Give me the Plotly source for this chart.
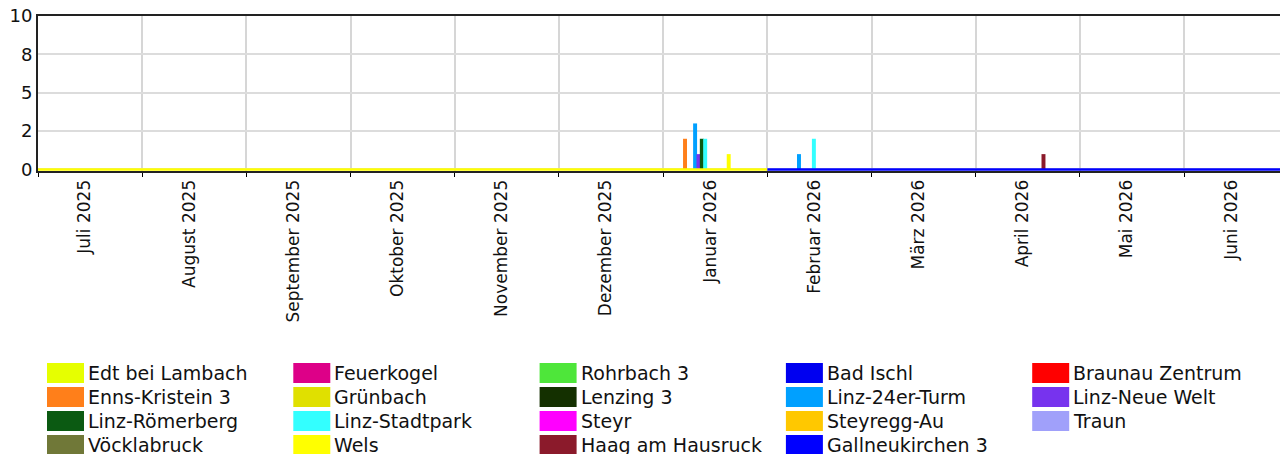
import calendar
import plotly.graph_objects as go

# Month categories along the x axis (each month gets the same width)
month_labels = ["Juli 2025", "August 2025", "September 2025", "Oktober 2025",
                "November 2025", "Dezember 2025", "Januar 2026", "Februar 2026",
                "März 2026", "April 2026", "Mai 2026", "Juni 2026"]
first_month = (2025, 7)

# Y axis ticks
y_tickvals = [0, 2.5, 5, 7.5, 10]
y_ticktext = ["0", "2", "5", "8", "10"]

# Stations in legend order with their colours
stations = ["Edt bei Lambach", "Feuerkogel", "Rohrbach 3", "Bad Ischl", "Braunau Zentrum",
            "Enns-Kristein 3", "Grünbach", "Lenzing 3", "Linz-24er-Turm", "Linz-Neue Welt",
            "Linz-Römerberg", "Linz-Stadtpark", "Steyr", "Steyregg-Au", "Traun",
            "Vöcklabruck", "Wels", "Haag am Hausruck", "Gallneukirchen 3"]
station_colors = ["#E6FF00", "#DD0088", "#4EE63A", "#0000F0", "#FF0000",
                  "#FF7F1A", "#E0E000", "#143000", "#00A0FF", "#7733EE",
                  "#0B5A12", "#33FFFF", "#FF00FF", "#FFC800", "#A0A0FA",
                  "#707838", "#FFFF00", "#8B1A2B", "#0000FF"]
color_of = dict(zip(stations, station_colors))

# Daily exceedance counts per station (days with a non-zero value)
enns_dates = ["2026-01-07"]
enns_values = [2]
linz24_dates = ["2026-01-10", "2026-02-09"]
linz24_values = [3, 1]
linz_neue_welt_dates = ["2026-01-11"]
linz_neue_welt_values = [1]
linz_roemerberg_dates = ["2026-01-12"]
linz_roemerberg_values = [2]
linz_stadtpark_dates = ["2026-01-13", "2026-02-13"]
linz_stadtpark_values = [2, 2]
wels_dates = ["2026-01-20"]
wels_values = [1]
haag_dates = ["2026-04-20"]
haag_values = [1]

# Periods reported with value 0 (drawn as a line on the baseline)
wels_zero_period = ["2025-07-01", "2026-01-31"]
gallneukirchen_zero_period = ["2026-02-01", "2026-06-30"]


def month_pos(date_str, where="mid"):
    """Position on the uniform month axis: month index + fraction of the month."""
    y, m, d = (int(p) for p in date_str.split("-"))
    idx = (y - first_month[0]) * 12 + (m - first_month[1])
    n = calendar.monthrange(y, m)[1]
    offset = {"start": d - 1, "mid": d - 0.5, "end": d}[where]
    return idx + offset / n


W, H = 1280, 454
plot_left, plot_top, plot_bottom = 38, 16, 171
x_max = 11.92
bar_width = 0.038

fig = go.Figure()

bar_series = [
    ("Enns-Kristein 3", enns_dates, enns_values),
    ("Linz-24er-Turm", linz24_dates, linz24_values),
    ("Linz-Neue Welt", linz_neue_welt_dates, linz_neue_welt_values),
    ("Linz-Römerberg", linz_roemerberg_dates, linz_roemerberg_values),
    ("Linz-Stadtpark", linz_stadtpark_dates, linz_stadtpark_values),
    ("Wels", wels_dates, wels_values),
    ("Haag am Hausruck", haag_dates, haag_values),
]
for name, dates, values in bar_series:
    fig.add_trace(go.Bar(
        x=[month_pos(d) for d in dates], y=values, name=name,
        width=bar_width, marker=dict(color=color_of[name], line=dict(width=0)),
        showlegend=False,
    ))

for name, period in [("Wels", wels_zero_period), ("Gallneukirchen 3", gallneukirchen_zero_period)]:
    fig.add_trace(go.Scatter(
        x=[month_pos(period[0], "start"), month_pos(period[1], "end")], y=[0, 0],
        mode="lines", line=dict(color=color_of[name], width=2.5),
        showlegend=False, hoverinfo="skip",
    ))

# Legend: five columns of coloured swatches with station names
shapes = []
annotations = []
col_step, row_step = 246.3, 24
for i, (name, col) in enumerate(zip(stations, station_colors)):
    c, r = i % 5, i // 5
    sx = 47 + c * col_step
    sy = 373 + r * row_step
    shapes.append(dict(type="rect", xref="paper", yref="paper",
                       x0=sx / W, x1=(sx + 37) / W,
                       y0=1 - (sy + 10) / H, y1=1 - (sy - 10) / H,
                       fillcolor=col, line=dict(width=0), layer="above"))
    annotations.append(dict(xref="paper", yref="paper", x=(sx + 39) / W, y=1 - sy / H,
                            text=name, showarrow=False, xanchor="left", yanchor="middle",
                            font=dict(family="DejaVu Sans", size=19, color="#111111")))

fig.update_layout(
    width=W, height=H,
    margin=dict(l=0, r=0, t=0, b=0),
    paper_bgcolor="white", plot_bgcolor="white",
    barmode="overlay",
    shapes=shapes, annotations=annotations,
    xaxis=dict(
        domain=[plot_left / W, 1.0],
        range=[0, x_max],
        tickmode="array",
        tickvals=[i + 0.45 for i in range(len(month_labels))],
        ticktext=month_labels,
        tickangle=-90,
        ticks="", showgrid=False, zeroline=False,
        tickfont=dict(family="DejaVu Sans", size=17, color="#111111"),
        showline=True, linecolor="#222222", linewidth=2, mirror=True,
        automargin=False,
        minor=dict(tickmode="array", tickvals=list(range(13)), showgrid=True,
                   gridcolor="#d6d6d6", gridwidth=2, ticks="outside",
                   ticklen=4, tickcolor="black", tickwidth=1),
    ),
    yaxis=dict(
        domain=[1 - plot_bottom / H, 1 - plot_top / H],
        range=[-0.1, 10],
        tickmode="array", tickvals=y_tickvals, ticktext=y_ticktext,
        ticks="", showgrid=True, gridcolor="#dcdcdc", gridwidth=2, zeroline=False,
        tickfont=dict(family="DejaVu Sans", size=18, color="#111111"),
        showline=True, linecolor="#222222", linewidth=2,
        automargin=False,
    ),
)

fig.write_html("out.html")
